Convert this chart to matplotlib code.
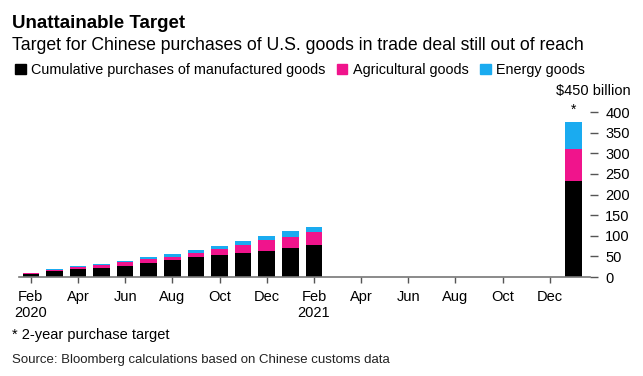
import matplotlib
matplotlib.use("Agg")
import matplotlib.pyplot as plt
from matplotlib.patches import Patch
import numpy as np

plt.rcParams['font.family'] = ['Liberation Sans', 'DejaVu Sans']

# monthly cumulative purchases, Feb 2020 .. Feb 2021 (US$ billion)
months = ["Feb 2020", "Mar", "Apr", "May", "Jun", "Jul", "Aug", "Sep",
          "Oct", "Nov", "Dec", "Jan 2021", "Feb 2021"]
manufactured = [8, 13.8, 18.5, 22.6, 28, 34.7, 40.4, 47.6, 52.5, 57.4, 63.8, 71, 76.8]
agricultural = [2.2, 4, 6.5, 7, 8.5, 8.9, 8.6, 11.4, 15.5, 21, 25.2, 26.8, 31.5]
energy = [0.3, 0.8, 1, 1.1, 1.5, 4.1, 6, 5.6, 6.3, 8.1, 9.6, 12.9, 12.1]

# 2-year purchase target
target_pos = 23
target = [232, 79, 65]

tick_labels = ["Feb\n2020", "Apr", "Jun", "Aug", "Oct", "Dec",
               "Feb\n2021", "Apr", "Jun", "Aug", "Oct", "Dec"]
y_ticks = [0, 50, 100, 150, 200, 250, 300, 350, 400]

c_man, c_agr, c_en = "#000000", "#f0148c", "#1aabf0"

fig = plt.figure(figsize=(6.43, 3.76), dpi=100)
ax = fig.add_axes([0.0295, 0.263, 0.888, 0.494])

x = np.arange(len(months))
w = 0.7
man = np.array(manufactured)
agr = np.array(agricultural)
en = np.array(energy)
ax.bar(x, man, w, color=c_man)
ax.bar(x, agr, w, bottom=man, color=c_agr)
ax.bar(x, en, w, bottom=man + agr, color=c_en)

ax.bar(target_pos, target[0], w, color=c_man)
ax.bar(target_pos, target[1], w, bottom=target[0], color=c_agr)
ax.bar(target_pos, target[2], w, bottom=target[0] + target[1], color=c_en)
ax.text(target_pos, 405, "*", ha="center", va="center", fontsize=10)

ax.set_xlim(-0.5, 23.7)
ax.set_ylim(0, 450)
ax.set_xticks(np.arange(0, 23, 2))
ax.set_xticklabels(tick_labels, fontsize=10.5)
ax.yaxis.tick_right()
ax.set_yticks(y_ticks)
ax.set_yticklabels([str(v) for v in y_ticks], fontsize=10.5)
ax.tick_params(axis="x", length=4, width=1, color="#555555", pad=5)
ax.tick_params(axis="y", length=6, width=1, color="#555555", pad=5)
for s in ["top", "left", "right"]:
    ax.spines[s].set_visible(False)
ax.spines["bottom"].set_color("#777777")
ax.spines["bottom"].set_linewidth(1.2)

ax.annotate("$450 billion", xy=(1, 450), xycoords=("axes fraction", "data"),
            xytext=(29.5, 0), textcoords="offset points",
            ha="right", va="center", fontsize=10.5)

fig.text(0.019, 0.925, "Unattainable Target", fontsize=13.5, fontweight="bold")
fig.text(0.019, 0.868, "Target for Chinese purchases of U.S. goods in trade deal still out of reach",
         fontsize=12.7)

handles = [Patch(color=c_man), Patch(color=c_agr), Patch(color=c_en)]
labels = ["Cumulative purchases of manufactured goods", "Agricultural goods", "Energy goods"]
fig.legend(handles, labels, loc="upper left", bbox_to_anchor=(0.015, 0.847), ncol=3,
           frameon=False, fontsize=10.4, handlelength=0.7, handleheight=0.7,
           handletextpad=0.4, columnspacing=0.8, borderaxespad=0)

fig.text(0.019, 0.098, "* 2-year purchase target", fontsize=10.5)
fig.text(0.019, 0.035, "Source: Bloomberg calculations based on Chinese customs data",
         fontsize=9.5, color="#222222")

fig.savefig("out.png", dpi=100)
